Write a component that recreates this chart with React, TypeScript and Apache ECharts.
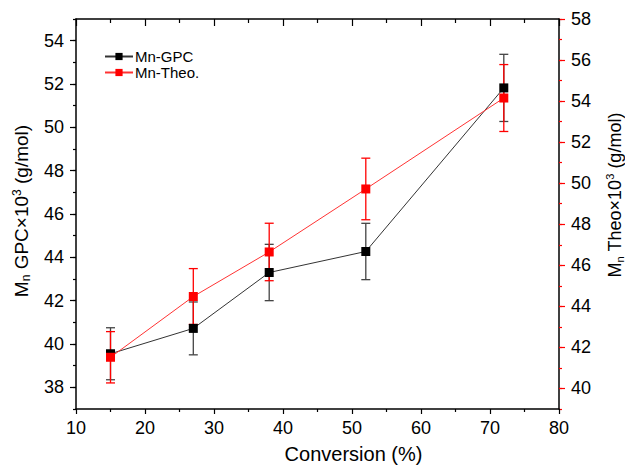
import React, { useEffect, useRef } from "react";
import * as echarts from "echarts";

const conversion = [15, 27, 38, 52, 72];
const mnGpc = [39.55, 40.72, 43.3, 44.27, 51.82];
const mnGpcErr = [1.2, 1.22, 1.3, 1.3, 1.55];
const mnTheo = [41.52, 44.48, 46.65, 49.72, 54.15];
const mnTheoErr = [1.25, 1.36, 1.4, 1.5, 1.63];

const xTicks = [10, 20, 30, 40, 50, 60, 70, 80];
const leftTicks = [38, 40, 42, 44, 46, 48, 50, 52, 54];
const rightTicks = [40, 42, 44, 46, 48, 50, 52, 54, 56, 58];

const FONT = "'Liberation Sans', Arial, sans-serif";
const RED = "#ff0000";

function errorSeries(name: string, vals: number[], errs: number[], color: string, yAxisIndex: number) {
  return {
    name,
    type: "custom",
    yAxisIndex,
    z: 2,
    encode: { x: 0, y: 1 },
    data: conversion.map((x, i) => [x, vals[i], errs[i]]),
    renderItem: (params: any, api: any) => {
      const x = api.value(0);
      const v = api.value(1);
      const e = api.value(2);
      const hi = api.coord([x, v + e]);
      const lo = api.coord([x, v - e]);
      const w = 4.5;
      const style = { stroke: color, lineWidth: 1.3 };
      return {
        type: "group",
        children: [
          { type: "line", shape: { x1: hi[0], y1: hi[1], x2: lo[0], y2: lo[1] }, style },
          { type: "line", shape: { x1: hi[0] - w, y1: hi[1], x2: hi[0] + w, y2: hi[1] }, style },
          { type: "line", shape: { x1: lo[0] - w, y1: lo[1], x2: lo[0] + w, y2: lo[1] }, style },
        ],
      };
    },
  };
}

function nameRich(size: number) {
  return {
    n: { fontSize: size, fontFamily: FONT, color: "#000" },
    sub: { fontSize: Math.round(size * 0.62), fontFamily: FONT, color: "#000", padding: [10, 0, 0, 0] },
    sup: { fontSize: Math.round(size * 0.62), fontFamily: FONT, color: "#000", padding: [0, 0, 9, 0] },
  };
}

export default function App() {
  const ref = useRef<HTMLDivElement>(null);
  useEffect(() => {
    document.body.style.margin = "0";
    const chart = echarts.init(ref.current!, null, { renderer: "svg" });
    const option: any = {
      animation: false,
      backgroundColor: "#fff",
      textStyle: { fontFamily: FONT },
      grid: { left: 76, right: 66, top: 19, bottom: 58, containLabel: false, outerBoundsMode: "none" },
      legend: {
        data: ["Mn-GPC", "Mn-Theo."],
        orient: "vertical",
        left: 99,
        top: 44,
        itemWidth: 28,
        itemHeight: 9,
        itemGap: 1,
        textStyle: { fontSize: 15, fontFamily: FONT, color: "#000", padding: [0, 0, 0, -3] },
      },
      xAxis: [
        {
          type: "value",
          min: 10,
          max: 80,
          interval: 10,
          name: "Conversion (%)",
          nameLocation: "middle",
          nameGap: 35,
          nameTextStyle: { fontSize: 20, fontFamily: FONT, color: "#000", padding: [0, 0, 0, 72] },
          axisLine: { lineStyle: { color: "#000", width: 1.5 } },
          axisTick: { length: 5, lineStyle: { color: "#000", width: 1.2 } },
          minorTick: { show: true, splitNumber: 2, length: 3, lineStyle: { color: "#000", width: 1.2 } },
          axisLabel: { fontSize: 18, color: "#000", margin: 10, fontFamily: FONT, customValues: xTicks },
          splitLine: { show: false },
        },
        {
          type: "value",
          position: "top",
          min: 10,
          max: 80,
          interval: 10,
          axisLine: { lineStyle: { color: "#000", width: 1.5 } },
          axisTick: { inside: true, length: 7, lineStyle: { color: "#000", width: 1.2 } },
          minorTick: { show: true, splitNumber: 2, length: 4, lineStyle: { color: "#000", width: 1.2 } },
          axisLabel: { show: false },
          splitLine: { show: false },
        },
      ],
      yAxis: [
        {
          type: "value",
          position: "left",
          min: 37,
          max: 55,
          interval: 1,
          name: "{n|M}{sub|n}{n| GPC×10}{sup|3}{n| (g/mol)}",
          nameLocation: "middle",
          nameGap: 44,
          nameTextStyle: { rich: nameRich(19), padding: [0, 0, 0, 6] },
          axisLine: { show: true, lineStyle: { color: "#000", width: 1.5 } },
          axisTick: { length: 6, customValues: leftTicks, lineStyle: { color: "#000", width: 1.2 } },
          axisLabel: { fontSize: 18, color: "#000", margin: 12, fontFamily: FONT, customValues: leftTicks },
          splitLine: { show: false },
        },
        {
          type: "value",
          position: "right",
          min: 39,
          max: 58,
          interval: 1,
          name: "{n|M}{sub|n}{n| Theo×10}{sup|3}{n| (g/mol)}",
          nameLocation: "middle",
          nameGap: 45,
          nameTextStyle: { rich: nameRich(18), padding: [0, 0, 0, 38] },
          axisLine: { show: true, lineStyle: { color: "#000", width: 1.5 } },
          axisTick: { length: 6, customValues: rightTicks, lineStyle: { color: RED, width: 1.2 } },
          axisLabel: { fontSize: 18, color: "#000", margin: 12, fontFamily: FONT, customValues: rightTicks },
          splitLine: { show: false },
        },
        {
          type: "value",
          position: "left",
          min: 37,
          max: 55,
          interval: 1,
          axisLine: { show: false },
          axisTick: { length: 3, lineStyle: { color: "#000", width: 1.2 } },
          axisLabel: { show: false },
          splitLine: { show: false },
        },
        {
          type: "value",
          position: "right",
          min: 39,
          max: 58,
          interval: 1,
          axisLine: { show: false },
          axisTick: { length: 3, lineStyle: { color: RED, width: 1.2 } },
          axisLabel: { show: false },
          splitLine: { show: false },
        },
      ],
      series: [
        errorSeries("gpcErr", mnGpc, mnGpcErr, "#444", 0),
        errorSeries("theoErr", mnTheo, mnTheoErr, RED, 1),
        {
          name: "Mn-GPC",
          type: "line",
          yAxisIndex: 0,
          z: 3,
          data: conversion.map((x, i) => [x, mnGpc[i]]),
          symbol: "rect",
          symbolSize: 9,
          itemStyle: { color: "#000" },
          lineStyle: { color: "#333", width: 1 },
        },
        {
          name: "Mn-Theo.",
          type: "line",
          yAxisIndex: 1,
          z: 4,
          data: conversion.map((x, i) => [x, mnTheo[i]]),
          symbol: "rect",
          symbolSize: 9,
          itemStyle: { color: RED },
          lineStyle: { color: "#ff3333", width: 1 },
        },
      ],
    };
    chart.setOption(option);
    return () => chart.dispose();
  }, []);
  return <div ref={ref} style={{ width: 625, height: 467 }} />;
}
